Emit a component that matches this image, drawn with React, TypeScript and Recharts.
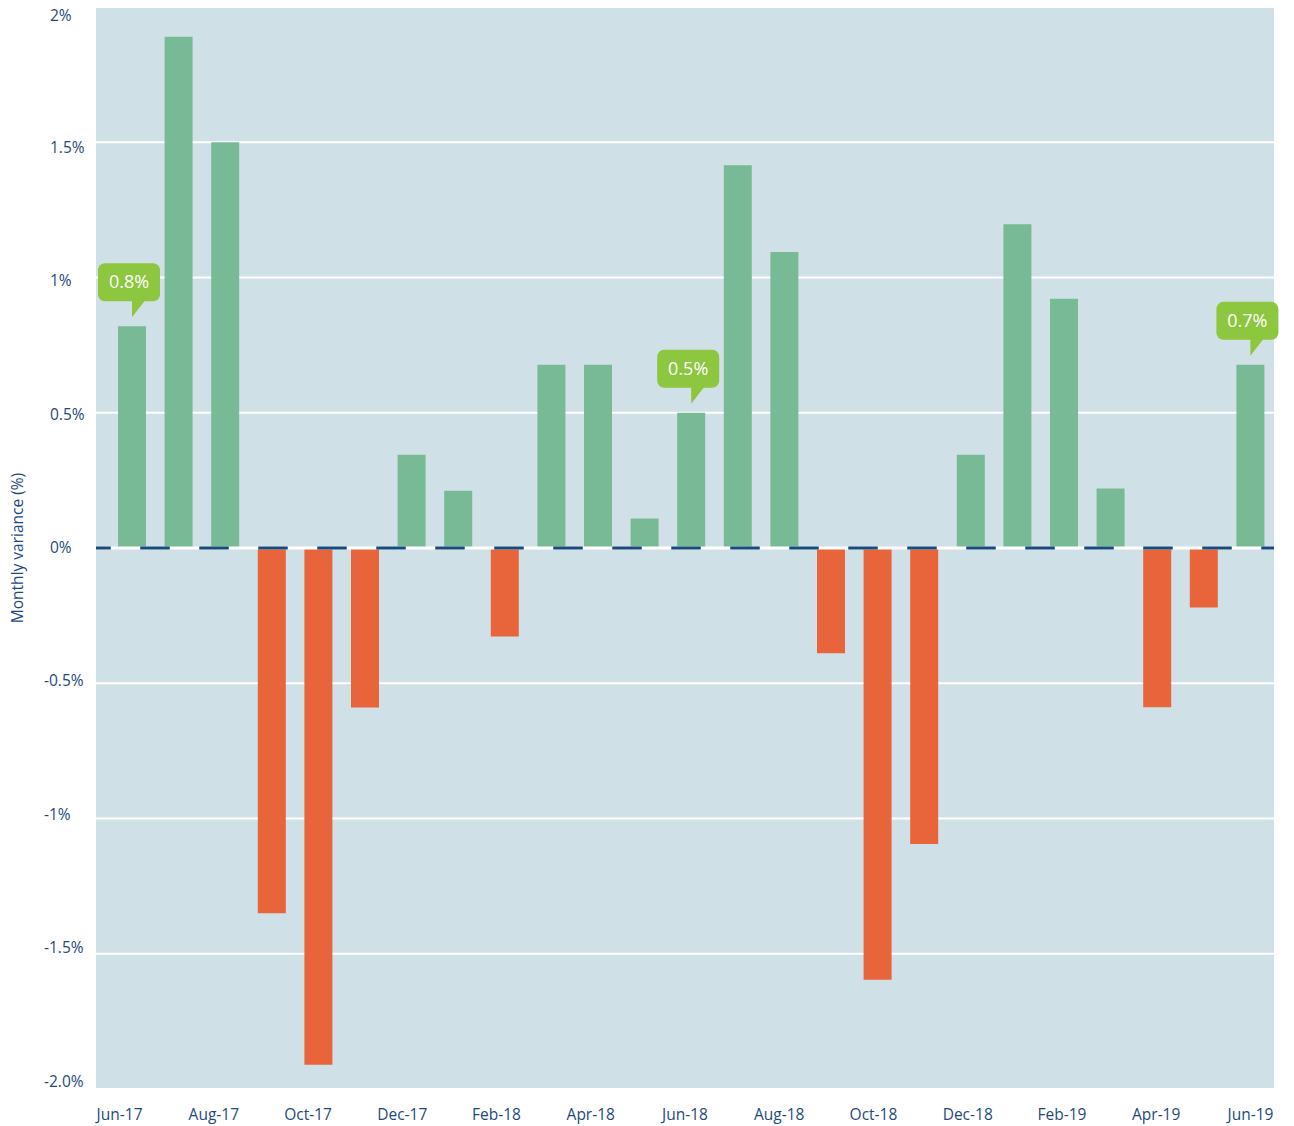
import React from 'react';
import {
  BarChart, Bar, XAxis, YAxis, CartesianGrid, ReferenceLine, Cell, LabelList
} from 'recharts';

const months = [
  'Jun-17', 'Jul-17', 'Aug-17', 'Sep-17', 'Oct-17', 'Nov-17', 'Dec-17',
  'Jan-18', 'Feb-18', 'Mar-18', 'Apr-18', 'May-18', 'Jun-18', 'Jul-18',
  'Aug-18', 'Sep-18', 'Oct-18', 'Nov-18', 'Dec-18', 'Jan-19', 'Feb-19',
  'Mar-19', 'Apr-19', 'May-19', 'Jun-19',
];

const variance = [
  0.82, 1.89, 1.5, -1.35, -1.91, -0.59, 0.345,
  0.212, -0.327, 0.677, 0.677, 0.109, 0.5, 1.415,
  1.094, -0.389, -1.596, -1.094, 0.345, 1.197, 0.921,
  0.22, -0.589, -0.22, 0.677,
];

const yTicks = [-2, -1.5, -1, -0.5, 0, 0.5, 1, 1.5, 2];
const yTickLabels = ['-2.0%', '-1.5%', '-1%', '-0.5%', '0%', '0.5%', '1%', '1.5%', '2%'];

// months that get a green callout bubble
const calloutMonths = ['Jun-17', 'Jun-18', 'Jun-19'];

const data = months.map((m, i) => ({
  month: m,
  value: variance[i],
  callout: calloutMonths.includes(m) ? variance[i].toFixed(1) + '%' : '',
}));

const TEXT = '#1d4a7a';
const FONT = '"Open Sans", "Noto Sans", sans-serif';
const ZERO_Y = 548.5;

const YTick = (props: any) => {
  const { y, payload } = props;
  const idx = yTicks.indexOf(payload.value);
  const neg = payload.value < 0;
  // labels sit a touch closer together than the gridlines
  const ly = y + (ZERO_Y - y) * 0.013;
  return (
    <text x={neg ? 44 : 50} y={ly} dy={5} textAnchor="start" fill={TEXT}
      fontSize={15.5} fontFamily={FONT}>
      {yTickLabels[idx]}
    </text>
  );
};

const XTick = (props: any) => {
  const { x, y, payload } = props;
  return (
    <text x={x} y={y} dy={23} textAnchor="middle" fill={TEXT}
      fontSize={15.5} fontFamily={FONT} fontWeight={500}>
      {payload.value}
    </text>
  );
};

const Callout = (props: any) => {
  const { x, y, width, value } = props;
  if (!value) return null;
  const tipX = x + width / 2;
  const tipY = y - 9;
  const left = tipX - 34;
  const top = tipY - 54;
  return (
    <g>
      <rect x={left} y={top} width={62} height={38} rx={7} fill="#8dc63f" />
      <path d={`M ${tipX} ${top + 36} L ${tipX + 14} ${top + 36} L ${tipX} ${tipY} Z`} fill="#8dc63f" />
      <text x={left + 31} y={top + 25} textAnchor="middle" fill="#ffffff"
        fontSize={18} fontFamily={FONT}>
        {value}
      </text>
    </g>
  );
};

const App: React.FC = () => {
  return (
    <div>
      <style>{'body{margin:0}'}</style>
      <BarChart width={1294} height={1126} data={data}
        margin={{ top: 7, right: 20, left: 0, bottom: 0 }}
        barSize={28}
      >
        <CartesianGrid vertical={false} stroke="#ffffff" strokeWidth={2}
          fill="#d0e0e7" fillOpacity={1} xAxisId="labels" />
        <XAxis xAxisId="bars" dataKey="month" hide orientation="top" height={0}
          padding={{ left: 13, right: 0 }} />
        <XAxis xAxisId="labels" dataKey="month" interval={1} axisLine={false} tickLine={false}
          height={37} tick={<XTick />} />
        <YAxis domain={[-2, 2]} ticks={yTicks} width={96} axisLine={false}
          tickLine={false} tick={<YTick />}
          label={{
            value: 'Monthly variance (%)', angle: -90, position: 'insideLeft',
            dx: 12, dy: 0, fill: TEXT, fontSize: 15.5, fontFamily: FONT,
            style: { textAnchor: 'middle' },
          }}
        />
        <Bar dataKey="value" xAxisId="bars" isAnimationActive={false}>
          {data.map((d, i) => (
            <Cell key={i} fill={d.value >= 0 ? '#79ba96' : '#e8643a'} />
          ))}
          <LabelList dataKey="callout" content={<Callout />} />
        </Bar>
        <ReferenceLine y={0} xAxisId="labels" stroke="#ffffff" strokeWidth={3} />
        <ReferenceLine y={0} xAxisId="labels" stroke="#174b7c" strokeWidth={3}
          strokeDasharray="29.5 29.5" strokeDashoffset={14.75} />
      </BarChart>
    </div>
  );
};

export default App;
